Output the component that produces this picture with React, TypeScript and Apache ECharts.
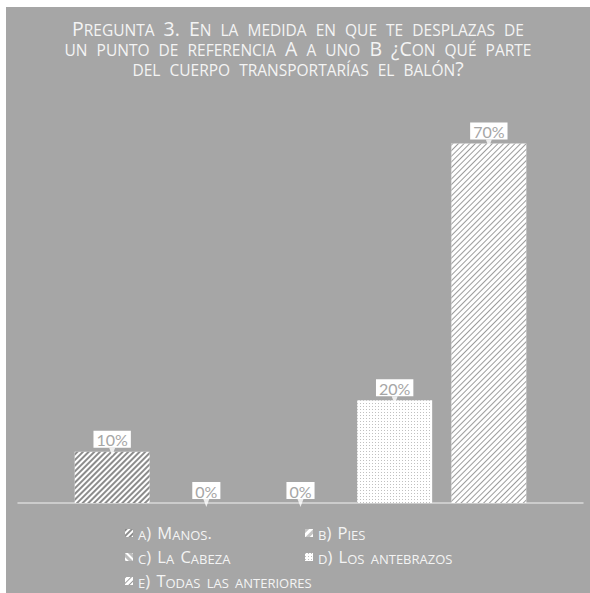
import React, { useEffect, useRef } from "react";
import * as echarts from "echarts";

const titleLines = [
  "Pregunta 3. En la medida en que te desplazas de",
  "un punto de referencia A a uno B ¿Con qué parte",
  "del cuerpo transportarías el balón?",
];
const categories = ["a) Manos.", "b) Pies", "c) La Cabeza", "d) Los antebrazos", "e) Todas las anteriores"];
const values = [10, 0, 0, 20, 70];
const leftLegend = ["a) Manos.", "c) La Cabeza", "e) Todas las anteriores"];
const rightLegend = ["b) Pies", "d) Los antebrazos"];

const FONT = "Open Sans";
const BG = "#a6a6a6";
const TEXT = "#f4f4f4";

function smallCaps(line: string, big: string, small: string, space: string): string {
  let out = "";
  let cur = "";
  let buf = "";
  for (const ch of line) {
    const isLower = ch !== ch.toUpperCase();
    const st = ch === " " ? space : isLower ? small : big;
    if (st !== cur) {
      if (buf) out += `{${cur}|${buf}}`;
      buf = "";
      cur = st;
    }
    buf += ch.toUpperCase();
  }
  if (buf) out += `{${cur}|${buf}}`;
  return out;
}

const decals: any[] = [
  { symbol: "rect", symbolSize: 1, dashArrayX: [1, 0], dashArrayY: [2, 2], rotation: -Math.PI / 4, color: "#8c8c8c" },
  { symbol: "rect", symbolSize: 1, dashArrayX: [1, 0], dashArrayY: [3, 3], rotation: -Math.PI / 4, color: "#c4c4c4" },
  { symbol: "rect", symbolSize: 1, dashArrayX: [1, 0], dashArrayY: [3, 2], rotation: Math.PI / 4, color: "#bcbcbc" },
  { symbol: "rect", symbolSize: 0.8, dashArrayX: [1, 2], dashArrayY: [1, 2], color: "#b0b0b0" },
  { symbol: "rect", symbolSize: 1, dashArrayX: [1, 0], dashArrayY: [1, 3], rotation: -Math.PI / 4, color: "#9c9c9c" },
];

export default function App() {
  const ref = useRef<HTMLDivElement>(null);
  useEffect(() => {
    if (!ref.current) return;
    const chart = echarts.init(ref.current, null, { renderer: "svg" });
    const axisData = ["", ...categories, ""];
    const barSeries = categories.map((name, i) => ({
      name,
      type: "bar",
      barWidth: 75,
      barGap: "-100%",
      data: axisData.map((_, j) => (j === i + 1 ? values[i] : "-")),
      itemStyle: { color: "#ffffff", decal: decals[i] },
      label: {
        show: true,
        position: "top",
        distance: 4,
        formatter: (p: any) => p.value + "%",
        backgroundColor: "#ffffff",
        color: "#a6a6a6",
        fontFamily: "Lato",
        fontSize: 16,
        padding: [1, 3, 0, 3],
      },
      emphasis: { disabled: true },
      z: 2,
    }));
    const pointer = {
      type: "scatter",
      name: "pointer",
      symbol: "triangle",
      symbolRotate: 180,
      symbolSize: [6, 8],
      symbolOffset: [0, 0],
      itemStyle: { color: "#ffffff" },
      data: axisData.map((_, j) => (j >= 1 && j <= categories.length ? values[j - 1] : "-")),
      z: 5,
      silent: true,
    };
    const legendRich = {
      lc: { fontFamily: FONT, fontSize: 16.5, color: TEXT, lineHeight: 16, verticalAlign: "bottom" },
      ls: { fontFamily: FONT, fontSize: 13, color: TEXT, lineHeight: 13.6, verticalAlign: "bottom" },
      lsp: { fontFamily: FONT, fontSize: 16.5, color: TEXT, lineHeight: 16, verticalAlign: "bottom", padding: [0, 1, 0, 1] },
    };
    const legendBase = {
      orient: "vertical",
      top: 517,
      padding: 0,
      itemWidth: 8,
      itemHeight: 8,
      itemGap: 7,
      icon: "rect",
      selectedMode: false,
      formatter: (n: string) => smallCaps(n, "lc", "ls", "lsp"),
      textStyle: { color: TEXT, fontFamily: FONT, rich: legendRich },
    };
    chart.setOption({
      animation: false,
      backgroundColor: BG,
      title: {
        text: titleLines.map((l) => smallCaps(l, "tc", "ts", "tsp")).join("\n"),
        left: "center",
        top: 11,
        padding: 0,
        textStyle: {
          color: TEXT,
          fontFamily: FONT,
          fontWeight: "normal",
          rich: {
            tc: { fontFamily: FONT, fontWeight: "normal", fontSize: 19.5, color: TEXT, lineHeight: 20, verticalAlign: "bottom" },
            ts: { fontFamily: FONT, fontWeight: "normal", fontSize: 15.5, color: TEXT, lineHeight: 17.4, verticalAlign: "bottom" },
            tsp: { fontFamily: FONT, fontWeight: "normal", fontSize: 19.5, color: TEXT, lineHeight: 20, verticalAlign: "bottom", padding: [0, 2, 0, 2] },
          },
        },
      },
      legend: [
        { ...legendBase, left: 119, data: leftLegend },
        { ...legendBase, left: 299, data: rightLegend },
      ],
      grid: { left: 12, right: 7, top: 85, bottom: 90 },
      xAxis: {
        type: "category",
        data: axisData,
        boundaryGap: false,
        axisTick: { show: false },
        axisLabel: { show: false },
        axisLine: { lineStyle: { color: "#d9d9d9", width: 1.5 } },
      },
      yAxis: { type: "value", min: 0, max: 80, show: false, splitLine: { show: false } },
      series: [...barSeries, pointer],
    });
    return () => chart.dispose();
  }, []);
  return (
    <div
      ref={ref}
      style={{ position: "absolute", left: 6, top: 7, width: 584, height: 586 }}
    />
  );
}
